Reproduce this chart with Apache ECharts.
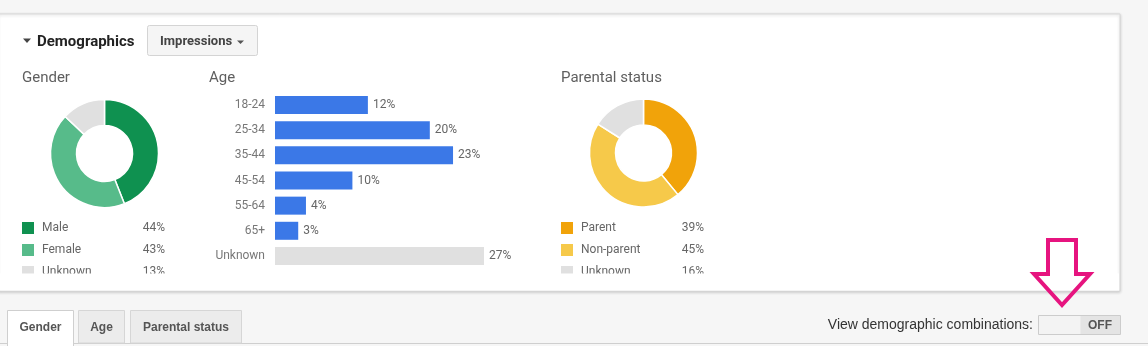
<!DOCTYPE html>
<html>
<head>
<meta charset="utf-8">
<title>Demographics</title>
<script src="https://cdn.jsdelivr.net/npm/echarts@6/dist/echarts.min.js"></script>
<style>
  html, body { margin: 0; padding: 0; background: #f6f6f6; }
  #chart { width: 1148px; height: 346px; }
</style>
</head>
<body>
<div id="chart"></div>
<script>
// Gender split (share of impressions, %)
const genderNames = ['Male', 'Female', 'Unknown'];
const genderValues = [44, 43, 13];
const genderColors = ['#0f9150', '#57bb8a', '#e0e0e0'];

// Age brackets (share of impressions, %)
const ageCategories = ['18-24', '25-34', '35-44', '45-54', '55-64', '65+', 'Unknown'];
const ageValues = [12, 20, 23, 10, 4, 3, 27];

// Parental status (share of impressions, %)
const parentalNames = ['Parent', 'Non-parent', 'Unknown'];
const parentalValues = [39, 45, 16];
const parentalColors = ['#f1a30a', '#f6c94a', '#e0e0e0'];

// Tabs along the bottom
const tabLabels = ['Gender', 'Age', 'Parental status'];

const FONT = 'Roboto, "Noto Sans", sans-serif';
const UI_FONT = '"Liberation Sans", Arial, sans-serif';

function pieData(names, values, colors) {
  return names.map((n, i) => ({ name: n, value: values[i], itemStyle: { color: colors[i] } }));
}

function legendFor(names, values, left) {
  const lookup = {};
  names.forEach((n, i) => { lookup[n] = values[i]; });
  return {
    orient: 'vertical',
    left: left,
    top: 222,
    padding: 0,
    itemWidth: 12,
    itemHeight: 12,
    itemGap: 10,
    icon: 'rect',
    selectedMode: false,
    itemStyle: { borderWidth: 0 },
    data: names,
    formatter: (name) => '{n|' + name + '}{v|' + lookup[name] + '%}',
    textStyle: {
      fontFamily: FONT,
      fontSize: 12,
      lineHeight: 12,
      color: '#666',
      rich: {
        n: { width: 96, lineHeight: 12, padding: [0, 0, 0, 3], fontFamily: FONT, fontSize: 12, color: '#666' },
        v: { width: 27, lineHeight: 12, align: 'right', fontFamily: FONT, fontSize: 12, color: '#666' }
      }
    }
  };
}

const ageBarData = ageValues.map((v, i) => ({
  value: v,
  itemStyle: { color: ageCategories[i] === 'Unknown' ? '#e0e0e0' : '#3b78e7' }
}));

const chart = echarts.init(document.getElementById('chart'), null, { renderer: 'canvas' });

// Tab strip elements
const tabBoxes = [
  { x: 7, w: 66, active: true },
  { x: 78, w: 46, active: false },
  { x: 130, w: 111, active: false }
];
const tabGraphics = [];
tabBoxes.forEach((t, i) => {
  tabGraphics.push({
    type: 'rect', z: 5,
    shape: { x: t.x + 0.5, y: 310.5, width: t.w, height: t.active ? 36 : 32.5 },
    style: { fill: t.active ? '#ffffff' : '#ececec', stroke: t.active ? '#cfcfcf' : '#d6d6d6', lineWidth: 1 }
  });
  tabGraphics.push({
    type: 'text', z: 6,
    style: {
      text: tabLabels[i], x: t.x + t.w / 2 + 0.5, y: 327.5,
      align: 'center', verticalAlign: 'middle',
      font: 'bold 12px ' + UI_FONT, fill: '#555'
    }
  });
});

const titleStyle = { fontFamily: FONT, fontSize: 15, fontWeight: 'normal', color: '#5f5f5f' };

chart.setOption({
  backgroundColor: '#f6f6f6',
  animation: false,
  title: [
    { text: 'Gender', left: 22, top: 71, padding: 0, textStyle: titleStyle },
    { text: 'Age', left: 209, top: 71, padding: 0, textStyle: titleStyle },
    { text: 'Parental status', left: 561, top: 71, padding: 0, textStyle: titleStyle }
  ],
  legend: [
    legendFor(genderNames, genderValues, 22),
    legendFor(parentalNames, parentalValues, 561)
  ],
  grid: { left: 275, top: 92.5, width: 209, height: 176, containLabel: false },
  xAxis: { type: 'value', min: 0, max: 27, show: false },
  yAxis: {
    type: 'category', inverse: true, data: ageCategories,
    axisLine: { show: false }, axisTick: { show: false }, splitLine: { show: false },
    axisLabel: { color: '#777', fontFamily: FONT, fontSize: 12, margin: 10 }
  },
  series: [
    {
      name: 'Gender', type: 'pie', center: [104.5, 153.5], radius: [28, 54],
      startAngle: 90, clockwise: true, silent: true,
      label: { show: false }, labelLine: { show: false },
      itemStyle: { borderColor: '#ffffff', borderWidth: 1.5 },
      data: pieData(genderNames, genderValues, genderColors)
    },
    {
      name: 'Age', type: 'bar', barWidth: 18, silent: true,
      label: {
        show: true, position: 'right', distance: 5, formatter: '{c}%',
        color: '#666', fontFamily: FONT, fontSize: 12
      },
      data: ageBarData
    },
    {
      name: 'Parental status', type: 'pie', center: [643.5, 153], radius: [28, 54],
      startAngle: 90, clockwise: true, silent: true,
      label: { show: false }, labelLine: { show: false },
      itemStyle: { borderColor: '#ffffff', borderWidth: 1.5 },
      data: pieData(parentalNames, parentalValues, parentalColors)
    }
  ],
  graphic: [
    // white card behind the charts
    { type: 'rect', z: -10, silent: true,
      shape: { x: -2, y: 14, width: 1122, height: 277 },
      style: { fill: '#ffffff', stroke: '#d8d8d8', lineWidth: 1, shadowBlur: 3, shadowColor: 'rgba(0,0,0,0.18)', shadowOffsetY: 1 } },
    // header: caret + section name
    { type: 'polygon', z: 5, shape: { points: [[23, 38.5], [31, 38.5], [27, 43]] }, style: { fill: '#444' } },
    { type: 'text', z: 5,
      style: { text: 'Demographics', x: 37, y: 42, verticalAlign: 'middle', font: 'bold 15px ' + FONT, fill: '#222' } },
    // metric drop-down button
    { type: 'rect', z: 5, shape: { x: 147.5, y: 25.5, width: 110, height: 30, r: 2 },
      style: { fill: '#f5f5f5', stroke: '#d4d4d4', lineWidth: 1 } },
    { type: 'text', z: 6,
      style: { text: 'Impressions', x: 160, y: 41.5, verticalAlign: 'middle', font: 'bold 13px ' + FONT, fill: '#444' } },
    { type: 'polygon', z: 6, shape: { points: [[237, 40.5], [244, 40.5], [240.5, 44]] }, style: { fill: '#555' } },
    // overflow edge of the legend rows
    { type: 'rect', z: 100, silent: true, shape: { x: 0, y: 273.5, width: 1119, height: 17 }, style: { fill: '#ffffff' } },
    // bottom rule of the tab strip
    { type: 'line', z: 4, shape: { x1: 0, y1: 343.5, x2: 1148, y2: 343.5 }, style: { stroke: '#cfcfcf', lineWidth: 1 } }
  ].concat(tabGraphics).concat([
    // combinations toggle
    { type: 'text', z: 5,
      style: { text: 'View demographic combinations:', x: 1033, y: 325.5, align: 'right', verticalAlign: 'middle',
        font: '14px ' + UI_FONT, fill: '#333' } },
    { type: 'rect', z: 5, shape: { x: 1038.5, y: 315.5, width: 82, height: 19 },
      style: { fill: '#f3f3f3', stroke: '#cccccc', lineWidth: 1 } },
    { type: 'rect', z: 6, shape: { x: 1080.5, y: 316, width: 39.5, height: 18 },
      style: { fill: '#e4e4e4' } },
    { type: 'text', z: 7,
      style: { text: 'OFF', x: 1100, y: 325.5, align: 'center', verticalAlign: 'middle',
        font: 'bold 12px ' + UI_FONT, fill: '#555' } },
    // pointer arrow toward the toggle
    { type: 'polygon', z: 110, silent: true,
      shape: { points: [[1048, 240], [1076, 240], [1076, 274], [1090, 274], [1062, 305], [1034, 274], [1048, 274]] },
      style: { fill: 'none', stroke: '#e6147f', lineWidth: 4, lineJoin: 'miter' } }
  ])
});
</script>
</body>
</html>
